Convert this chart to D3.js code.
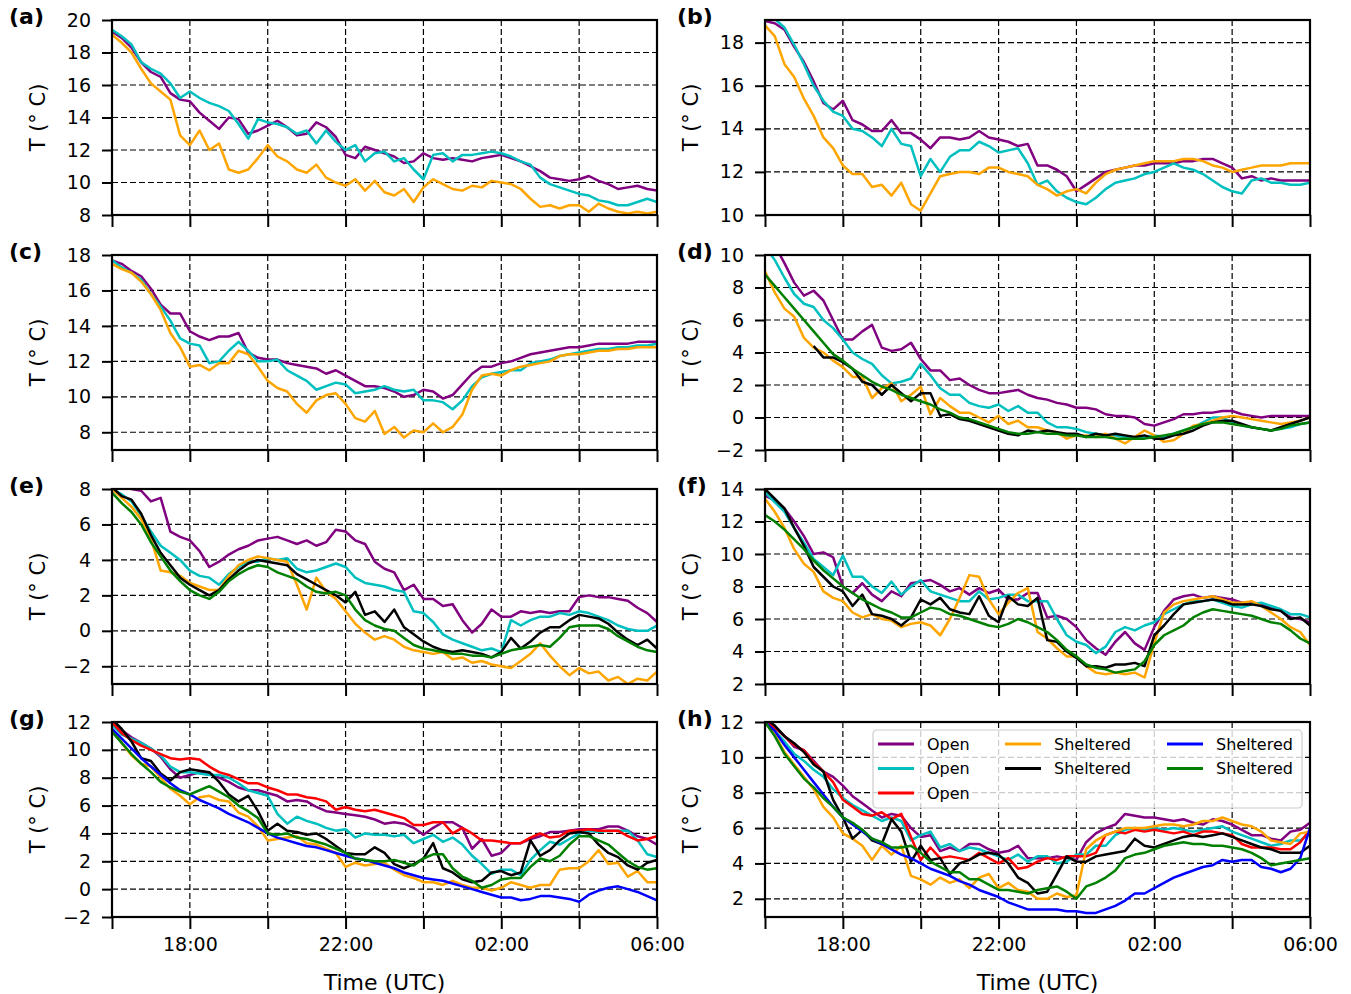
<!DOCTYPE html>
<html>
<head>
<meta charset="utf-8">
<script src="https://cdn.jsdelivr.net/npm/d3@7"></script>
<style>
  body { margin: 0; background: #fff; }
  svg { display: block; }
  text { font-family: "DejaVu Sans", sans-serif; fill: #000; }
</style>
</head>
<body>
<svg id="chart" width="1351" height="994"></svg>
<script>
// samples every 15 min, 16:00 -> 06:00 (57 values per station)
var startTime = new Date(2000, 0, 1, 16, 0);
var endTime = new Date(2000, 0, 2, 6, 0);
var stepMinutes = 15;
var xLabelHours = [18, 22, 2, 6];

// station colours and legend text, legend order
var stations = ["purple", "cyan", "red", "orange", "black", "blue", "green"];
var stationColor = { purple: "#800080", cyan: "#00bfbf", red: "#ff0000", orange: "#ffa500", black: "#000000", blue: "#0000ff", green: "#008000" };
var stationLabel = { purple: "Open", cyan: "Open", red: "Open", orange: "Sheltered", black: "Sheltered", blue: "Sheltered", green: "Sheltered" };

// ---- (a)
var aPurple = [19.3,18.9,18.3,17.4,16.8,16.5,15.5,15.1,15.0,14.3, 13.8,13.3,14.0,13.9,13.0,13.2,13.5,13.8,13.4,12.9, 13.0,13.7,13.4,12.8,11.7,11.5,12.2,12.0,11.8,11.6, 11.2,11.3,11.8,11.5,11.4,11.5,11.4,11.3,11.5,11.6, 11.7,11.5,11.3,11.0,10.7,10.3,10.2,10.1,10.2,10.4, 10.1,9.9,9.6,9.7,9.8,9.6,9.5];
var aCyan = [19.4,19.0,18.5,17.4,17.0,16.7,16.1,15.2,15.6,15.2, 14.9,14.7,14.4,13.6,12.7,13.9,13.7,13.6,13.4,13.0, 13.2,12.4,13.2,12.5,12.0,12.3,11.3,11.8,11.9,11.3, 11.5,10.8,10.2,11.7,11.8,11.3,11.7,11.7,11.8,11.9, 11.8,11.6,11.3,11.1,10.3,9.9,9.7,9.5,9.3,9.2, 8.9,8.8,8.6,8.6,8.8,9.0,8.8];
var aOrange = [19.1,18.6,18.0,17.0,16.1,15.6,15.1,12.9,12.3,13.2, 12.0,12.4,10.8,10.6,10.8,11.5,12.3,11.6,11.3,10.8, 10.6,11.1,10.3,10.0,9.8,10.2,9.5,10.1,9.4,9.2, 9.6,8.8,9.7,10.2,9.9,9.6,9.5,9.8,9.7,10.1, 10.0,9.9,9.6,9.0,8.5,8.6,8.4,8.6,8.6,8.2, 8.7,8.4,8.2,8.1,8.2,8.1,8.2];
var aTicks = [8, 10, 12, 14, 16, 18, 20];

// ---- (b)
var bPurple = [19.0,18.9,18.6,17.8,17.1,16.2,15.2,14.9,15.3,14.4, 14.2,13.9,13.9,14.4,13.8,13.8,13.5,13.1,13.6,13.6, 13.5,13.6,13.9,13.6,13.5,13.4,13.2,13.3,12.3,12.3, 12.1,11.8,11.1,11.4,11.7,12.0,12.1,12.2,12.3,12.3, 12.4,12.4,12.4,12.5,12.5,12.6,12.6,12.4,12.2,11.7, 11.8,11.6,11.7,11.6,11.6,11.6,11.6];
var bCyan = [19.1,19.1,18.7,17.9,17.0,16.0,15.3,14.8,14.6,14.0, 13.9,13.6,13.2,14.0,13.3,13.2,11.8,12.6,12.0,12.7, 13.0,13.0,13.4,13.2,12.9,13.0,13.1,12.4,11.4,11.6, 11.1,10.8,10.6,10.5,10.8,11.2,11.5,11.6,11.7,11.9, 12.0,12.2,12.4,12.2,12.1,11.9,11.6,11.3,11.1,11.0, 11.6,11.7,11.5,11.5,11.4,11.4,11.5];
var bOrange = [18.8,18.3,17.0,16.4,15.4,14.6,13.6,13.1,12.3,11.9, 11.9,11.3,11.4,10.9,11.5,10.5,10.2,11.0,11.8,11.9, 12.0,12.0,11.9,12.2,12.2,12.0,11.9,11.8,11.4,11.2, 10.9,11.1,11.2,11.0,11.5,11.9,12.1,12.2,12.3,12.4, 12.5,12.5,12.5,12.6,12.6,12.5,12.3,12.2,12.0,12.1, 12.2,12.3,12.3,12.3,12.4,12.4,12.4];
var bTicks = [10, 12, 14, 16, 18];

// ---- (c)
var cPurple = [17.7,17.5,17.1,16.8,16.1,15.2,14.7,14.7,13.7,13.4, 13.2,13.4,13.4,13.6,12.5,12.2,12.1,12.1,11.9,11.8, 11.7,11.6,11.3,11.5,11.2,10.9,10.6,10.6,10.5,10.3, 10.0,10.1,10.4,10.3,9.9,10.1,10.7,11.3,11.7,11.7, 11.9,12.0,12.2,12.4,12.5,12.6,12.7,12.8,12.8,12.9, 13.0,13.0,13.0,13.0,13.1,13.1,13.1];
var cCyan = [17.7,17.3,17.0,16.6,15.8,15.1,14.3,13.3,13.0,12.9, 11.9,12.0,12.6,13.1,12.6,12.0,12.0,12.1,11.5,11.2, 10.9,10.4,10.6,10.8,10.7,10.2,10.3,10.4,10.6,10.4, 10.3,10.4,9.8,9.8,9.7,9.3,9.8,10.6,11.1,11.3, 11.4,11.5,11.5,11.9,12.0,12.1,12.3,12.4,12.5,12.6, 12.7,12.7,12.8,12.8,12.9,12.9,13.0];
var cOrange = [17.5,17.2,17.0,16.5,15.8,14.9,13.6,12.8,11.7,11.8, 11.5,11.9,11.9,12.6,12.4,11.7,10.9,10.5,10.3,9.6, 9.1,9.8,10.1,10.2,9.6,8.8,8.6,9.2,7.9,8.3, 7.7,8.1,8.0,8.5,8.0,8.3,9.0,10.4,11.2,11.3, 11.2,11.5,11.7,11.8,11.9,12.0,12.3,12.4,12.4,12.5, 12.6,12.6,12.7,12.7,12.8,12.8,12.8];
var cTicks = [8, 10, 12, 14, 16, 18];

// ---- (d)
var dPurple = [11.5,10.6,9.5,8.3,7.5,7.8,7.2,6.0,4.8,4.8, 5.3,5.7,4.3,4.1,4.2,4.6,3.6,2.9,2.9,2.3, 2.4,2.0,1.7,1.5,1.5,1.6,1.7,1.4,1.2,1.1, 0.9,0.8,0.6,0.6,0.5,0.2,0.1,0.1,0.0,-0.4, -0.5,-0.3,-0.1,0.2,0.2,0.3,0.3,0.4,0.4,0.2, 0.1,0.0,0.1,0.1,0.1,0.1,0.1];
var dCyan = [10.5,9.7,8.6,7.6,7.0,6.8,6.0,5.5,4.8,4.0, 3.6,3.3,2.6,2.1,2.2,2.4,3.3,2.6,1.8,1.4, 1.4,0.9,0.7,0.6,0.8,0.4,0.7,0.3,0.3,-0.3, -0.6,-0.6,-0.7,-0.9,-1.0,-1.1,-1.1,-1.2,-1.3,-1.2, -1.1,-1.2,-1.0,-0.8,-0.6,-0.3,0.0,0.0,-0.3,-0.5, -0.6,-0.7,-0.8,-0.7,-0.6,-0.4,-0.3];
var dOrange = [9.0,7.7,6.7,6.2,4.9,4.3,4.0,3.5,3.1,2.5, 2.5,1.2,1.8,2.1,1.0,1.4,1.9,0.2,1.2,0.7, 0.3,0.3,0.0,-0.3,0.1,-0.4,-0.2,-0.6,-0.6,-0.8, -0.9,-1.3,-1.1,-1.1,-1.2,-1.0,-1.3,-1.6,-1.2,-0.8, -1.1,-1.5,-1.4,-1.0,-0.5,-0.4,-0.2,0.0,0.1,0.0, -0.1,-0.2,-0.3,-0.4,-0.3,-0.2,0.0];
var dBlack = [null,null,null,null,null,4.4,3.7,3.7,3.4,3.0, 2.2,2.0,1.4,2.0,1.5,1.0,1.5,1.5,0.1,0.2, -0.1,-0.2,-0.4,-0.6,-0.8,-1.0,-1.1,-0.8,-0.9,-0.8, -0.9,-1.0,-1.0,-1.2,-1.0,-1.1,-1.0,-1.1,-1.2,-1.1, -1.3,-1.3,-1.1,-1.0,-0.8,-0.5,-0.3,-0.2,-0.2,-0.4, -0.6,-0.7,-0.8,-0.6,-0.4,-0.2,0.0];
var dGreen = [8.8,8.1,7.4,6.7,6.0,5.3,4.6,3.9,3.5,3.0, 2.6,2.2,1.9,1.7,1.4,1.2,1.0,0.8,0.5,0.3, 0.0,-0.1,-0.3,-0.5,-0.7,-0.9,-1.0,-1.0,-0.9,-1.0, -1.0,-1.1,-1.1,-1.2,-1.2,-1.2,-1.3,-1.3,-1.3,-1.3, -1.2,-1.1,-1.0,-0.8,-0.6,-0.4,-0.3,-0.3,-0.4,-0.5, -0.6,-0.7,-0.8,-0.7,-0.5,-0.4,-0.3];
var dTicks = [-2, 0, 2, 4, 6, 8, 10];

// ---- (e)
var ePurple = [8.6,8.2,8.0,7.9,7.3,7.5,5.6,5.3,5.1,4.5, 3.6,3.9,4.3,4.6,4.8,5.1,5.2,5.3,5.1,4.9, 5.1,4.8,5.0,5.7,5.6,5.1,4.9,3.9,3.5,3.3, 2.3,2.6,1.8,1.8,1.4,1.5,0.6,-0.1,0.4,1.2, 0.8,0.8,1.1,1.0,1.1,1.0,1.1,1.1,1.9,2.0, 1.9,1.9,1.8,1.7,1.3,1.0,0.5];
var eCyan = [8.0,7.7,7.3,6.5,5.6,4.8,4.4,4.0,3.4,3.1, 3.0,2.6,3.2,3.6,3.9,3.9,4.1,4.0,4.1,3.5, 3.3,3.4,3.6,3.8,3.6,3.0,2.7,2.6,2.5,2.3, 2.2,1.1,1.0,0.5,-0.2,-0.5,-0.7,-0.9,-1.1,-1.0, -1.2,0.6,0.3,0.6,0.8,0.8,1.0,0.9,1.1,1.0, 0.8,0.6,0.3,0.1,0.0,0.0,0.3];
var eOrange = [8.0,7.5,7.0,6.3,5.2,3.4,3.3,3.1,2.7,2.5, 2.3,2.3,3.1,3.7,4.0,4.2,4.1,4.0,3.9,2.6, 1.2,3.0,2.2,1.8,1.1,0.4,-0.1,-0.5,-0.3,-0.5, -0.9,-1.1,-1.2,-1.3,-1.2,-1.6,-1.5,-1.8,-1.7,-1.9, -2.0,-2.1,-1.7,-1.3,-0.7,-1.4,-2.0,-2.5,-2.1,-2.4, -2.3,-2.8,-2.6,-3.0,-2.7,-2.8,-2.3];
var eBlack = [8.1,7.6,7.4,6.6,5.4,4.4,3.7,3.0,2.6,2.3, 2.0,2.3,2.9,3.4,3.8,4.0,3.9,3.8,3.7,3.2, 2.9,2.6,2.3,2.0,1.6,2.2,0.9,1.1,0.5,1.2, 0.2,-0.2,-0.6,-0.9,-1.1,-1.2,-1.1,-1.2,-1.3,-1.5, -1.2,-0.4,-1.0,-0.6,-0.1,0.2,0.2,0.6,0.9,0.8, 0.7,0.4,-0.1,-0.5,-0.8,-0.5,-1.0];
var eGreen = [7.8,7.2,6.7,6.0,5.0,4.2,3.4,2.8,2.3,2.0, 1.8,2.2,2.8,3.2,3.5,3.7,3.6,3.3,3.1,2.9, 2.5,2.2,2.1,2.2,2.0,1.2,0.6,0.3,0.1,0.0, -0.4,-0.8,-1.0,-1.1,-1.2,-1.3,-1.3,-1.4,-1.4,-1.5, -1.3,-1.1,-1.0,-0.9,-0.8,-0.9,-0.4,0.2,0.3,0.3, 0.3,0.1,-0.3,-0.6,-0.9,-1.1,-1.2];
var eTicks = [-2, 0, 2, 4, 6, 8];

// ---- (f)
var fPurple = [13.6,13.3,12.8,12.0,11.1,10.0,10.1,9.8,8.0,7.6, 8.2,7.5,7.1,7.7,7.4,8.2,8.3,8.4,8.1,7.7, 7.9,7.5,7.9,7.6,7.8,7.2,7.2,7.6,7.6,6.1, 6.2,6.0,5.5,4.7,4.2,3.8,4.6,5.2,4.5,4.1, 5.5,6.5,7.2,7.4,7.5,7.3,7.4,7.3,7.2,7.0, 7.0,6.9,6.7,6.5,6.1,6.0,5.8];
var fCyan = [13.8,13.2,12.6,11.6,10.7,9.7,9.2,8.7,9.9,8.6, 8.6,8.0,7.6,8.3,7.5,8.0,8.4,7.7,7.5,7.3, 7.1,7.1,7.7,7.2,7.3,7.5,7.5,7.1,7.1,7.1, 6.0,5.0,4.6,4.4,3.9,4.3,5.2,5.5,5.3,5.6, 5.8,6.3,6.6,6.9,7.1,7.1,7.2,7.0,6.8,6.7, 6.9,7.0,6.8,6.6,6.3,6.3,6.1];
var fOrange = [13.4,12.6,11.6,10.3,9.4,8.9,7.7,7.3,7.1,6.4, 6.1,6.3,6.0,5.9,5.5,5.7,5.8,5.6,5.0,6.0, 7.3,8.7,8.6,7.2,6.3,7.0,7.6,7.9,5.2,4.8, 4.2,3.7,3.7,3.1,2.7,2.6,2.7,2.6,2.7,2.4, 4.5,6.4,6.9,7.1,7.2,7.3,7.4,7.2,7.0,7.0, 7.1,6.8,6.4,6.0,5.5,5.2,4.4];
var fBlack = [14.0,13.4,12.8,11.6,10.5,9.2,8.6,8.0,7.7,6.8, 7.5,6.3,6.2,6.0,5.6,6.1,7.2,6.9,7.3,6.6, 6.4,6.3,7.4,6.2,5.8,7.4,6.9,6.8,7.3,4.7, 4.6,4.0,3.6,3.1,3.1,3.0,3.2,3.2,3.3,3.1, 5.0,5.6,6.3,6.9,7.0,7.1,7.2,7.1,6.9,6.9, 6.9,6.8,6.6,6.5,6.0,6.1,5.6];
var fGreen = [12.4,12.0,11.5,10.9,10.3,9.6,9.0,8.5,8.0,7.6, 7.2,6.9,6.6,6.4,6.1,6.1,6.4,6.7,6.6,6.3, 6.2,6.0,5.8,5.6,5.5,5.7,6.0,5.8,5.5,5.2, 4.7,4.1,3.7,3.2,3.0,2.9,2.7,2.8,2.9,3.4, 4.4,5.0,5.3,5.6,6.1,6.4,6.6,6.5,6.4,6.3, 6.2,6.0,5.8,5.7,5.3,4.8,4.5];
var fTicks = [2, 4, 6, 8, 10, 12, 14];

// ---- (g)
var gPurple = [12.0,11.4,10.9,10.5,10.1,9.5,8.6,8.0,8.2,8.4, 8.3,8.0,7.7,7.3,7.1,7.1,6.9,6.7,6.3,6.4, 6.3,5.9,5.6,5.5,5.4,5.3,5.2,5.0,4.7,4.8, 4.7,4.4,3.9,4.4,4.8,4.8,4.4,2.9,3.6,2.4, 2.6,3.3,3.3,3.6,3.8,4.1,4.1,4.2,4.3,4.3, 4.3,4.5,4.5,4.2,3.8,3.6,3.2];
var gCyan = [11.8,11.1,10.8,10.5,10.1,9.6,8.8,8.4,8.4,8.3, 8.2,8.2,8.0,7.6,7.1,6.9,6.7,5.4,4.7,5.2, 4.9,4.7,4.4,4.2,4.3,3.7,4.0,3.9,3.9,3.8, 3.9,3.3,3.6,3.9,3.4,3.7,3.2,2.4,1.8,1.1, 1.4,1.4,1.0,2.1,2.8,3.4,3.2,3.6,4.0,4.2, 4.1,4.2,4.2,4.2,3.5,2.5,2.3];
var gRed = [12.0,11.2,10.7,10.3,10.0,9.7,9.4,9.3,9.4,9.3, 8.8,8.4,8.2,7.9,7.6,7.6,7.3,7.1,6.8,6.8, 6.6,6.5,6.3,5.7,5.9,5.7,5.6,5.7,5.5,5.3, 5.1,4.6,4.6,4.8,4.8,4.0,4.4,4.0,3.5,3.5, 3.4,3.3,3.3,3.7,4.0,3.7,3.8,4.2,4.2,4.3, 4.2,4.2,4.2,3.8,3.5,3.6,3.8];
var gOrange = [11.5,10.5,9.6,9.0,8.8,8.0,7.2,6.7,6.1,6.6, 6.7,6.4,6.3,5.5,5.2,4.5,3.5,3.6,3.7,3.8, 3.3,3.2,2.9,2.6,1.6,1.9,1.7,1.8,1.9,1.4, 1.0,0.8,0.5,0.5,0.3,0.6,0.3,0.1,0.1,-0.1, 0.1,0.5,0.3,0.1,0.3,0.3,1.4,1.5,1.5,2.0, 2.8,1.8,1.9,0.9,1.3,0.5,0.5];
var gBlack = [12.2,11.5,10.6,9.4,9.2,8.3,7.8,8.4,8.6,8.5, 8.4,7.7,6.8,6.3,6.7,5.6,4.2,4.7,4.2,4.1, 3.9,4.0,3.6,3.1,2.6,2.5,2.5,3.0,2.6,1.8, 1.5,1.8,2.2,3.3,1.5,1.2,0.7,0.5,0.6,1.2, 1.3,1.0,1.2,3.5,2.4,2.8,3.5,4.0,4.1,4.0, 3.2,2.6,2.3,1.7,1.4,1.9,2.1];
var gBlue = [11.5,10.8,10.1,9.4,8.8,8.2,7.6,7.1,6.8,6.4, 6.1,5.8,5.4,5.1,4.8,4.4,4.0,3.7,3.5,3.3, 3.1,3.0,2.8,2.6,2.4,2.2,2.1,1.9,1.7,1.5, 1.2,1.0,0.8,0.7,0.6,0.4,0.2,0.0,-0.2,-0.4, -0.6,-0.6,-0.8,-0.7,-0.5,-0.5,-0.6,-0.7,-0.9,-0.4, -0.1,0.1,0.2,0.0,-0.2,-0.5,-0.8];
var gGreen = [11.3,10.5,9.7,9.0,8.4,7.7,7.3,7.0,6.8,7.1, 7.4,7.0,6.6,6.0,5.6,5.1,4.0,3.9,4.0,3.7, 3.6,3.4,3.2,2.9,2.6,2.2,2.1,2.0,2.0,2.1, 1.9,1.7,2.2,2.5,2.5,1.5,0.9,0.6,0.1,0.3, 0.7,0.8,0.8,1.6,2.2,2.0,2.4,3.2,3.8,3.8, 3.5,3.2,2.6,2.0,1.6,1.4,1.5];
var gTicks = [-2, 0, 2, 4, 6, 8, 10, 12];

// ---- (h)
var hPurple = [12.1,11.7,11.2,10.6,10.4,9.8,9.2,8.9,8.4,7.8, 7.4,7.0,6.6,6.8,6.7,6.0,5.5,5.6,4.7,4.9, 4.7,5.1,5.1,4.8,4.6,4.7,5.0,4.3,4.3,4.3, 4.4,4.3,4.2,5.2,5.7,6.0,6.2,6.8,6.7,6.6, 6.6,6.5,6.4,6.5,6.3,6.2,6.5,6.4,6.2,5.9, 5.6,5.6,5.4,5.3,5.8,5.9,6.3];
var hCyan = [12.0,11.5,10.9,10.2,9.8,9.3,8.9,8.2,7.7,7.3, 7.0,6.7,6.4,6.6,6.4,5.3,5.6,5.8,4.9,5.1, 4.7,4.9,4.8,4.6,4.4,4.2,4.5,4.1,4.4,4.4, 4.0,4.1,4.5,4.5,5.0,5.0,5.6,5.9,6.0,5.9, 6.0,5.9,6.0,5.9,5.8,5.9,6.0,6.1,5.8,5.6, 5.4,5.2,5.0,5.1,5.3,5.3,5.7];
var hRed = [12.0,11.7,11.2,10.7,10.4,9.7,9.2,8.6,7.6,7.2, 6.8,6.7,6.9,6.5,6.8,5.5,4.2,4.9,4.3,4.4, 4.3,4.2,4.6,4.3,4.0,4.3,3.7,3.8,4.1,4.3, 4.2,4.4,4.4,4.4,4.6,5.6,5.8,5.7,5.9,5.8, 5.9,5.8,5.7,5.8,5.6,5.8,5.8,5.7,5.6,5.1, 4.9,4.9,4.9,4.8,4.8,5.2,5.9];
var hOrange = [12.0,11.3,10.3,9.6,8.9,8.2,7.2,6.6,5.7,5.4, 5.0,4.2,5.0,4.5,5.0,3.3,3.1,2.8,3.2,2.9, 3.1,2.6,3.2,3.4,2.6,2.9,2.5,2.4,2.0,2.0, 2.3,2.1,2.2,4.8,5.3,5.6,5.8,6.0,6.0,6.0, 6.1,6.2,6.2,6.1,6.2,6.4,6.4,6.6,6.4,6.2, 6.1,5.8,5.3,5.2,5.1,5.7,5.8];
var hBlack = [12.2,11.8,11.2,10.8,10.3,9.6,9.2,7.6,6.6,5.4, 5.9,5.3,5.1,6.5,5.8,4.1,5.0,4.2,4.3,3.4, 4.0,4.2,4.5,4.6,4.5,4.0,3.2,2.9,2.3,2.4, 3.4,4.4,4.1,4.1,4.4,4.5,4.6,4.7,5.4,5.0, 4.9,5.1,5.3,5.5,5.6,5.5,5.6,5.7,5.5,5.3, 5.1,4.9,4.8,4.6,4.6,4.6,5.0];
var hBlue = [12.0,11.5,10.7,10.0,9.3,8.6,7.9,7.2,6.6,6.2, 5.8,5.4,5.1,4.8,4.5,4.3,4.0,3.7,3.5,3.3, 3.0,2.8,2.5,2.3,2.1,1.8,1.6,1.4,1.4,1.4, 1.4,1.3,1.3,1.2,1.2,1.4,1.6,1.9,2.3,2.3, 2.6,2.9,3.2,3.4,3.6,3.8,3.9,4.2,4.1,4.2, 4.2,3.8,3.7,3.5,3.7,4.3,6.0];
var hGreen = [12.0,11.2,10.2,9.5,8.8,8.3,7.7,7.2,6.6,6.3, 5.9,5.4,5.2,4.9,4.9,5.0,4.6,4.1,3.8,3.5, 3.5,3.1,3.1,2.8,2.5,2.5,2.4,2.3,2.5,2.6, 2.7,2.4,2.0,2.7,2.9,3.2,3.6,4.3,4.5,4.6, 4.8,5.0,5.1,5.2,5.1,5.1,5.0,5.0,4.9,4.8, 4.6,4.3,3.9,4.0,4.1,4.2,4.3];
var hTicks = [2, 4, 6, 8, 10, 12];

var panels = [
    { label: "(a)", col: 0, row: 0, yDomain: [8, 20], yTicks: aTicks, data: { purple: aPurple, cyan: aCyan, orange: aOrange } },
    { label: "(b)", col: 1, row: 0, yDomain: [10, 19.05], yTicks: bTicks, data: { purple: bPurple, cyan: bCyan, orange: bOrange } },
    { label: "(c)", col: 0, row: 1, yDomain: [7, 18], yTicks: cTicks, data: { purple: cPurple, cyan: cCyan, orange: cOrange } },
    { label: "(d)", col: 1, row: 1, yDomain: [-2, 10], yTicks: dTicks, data: { purple: dPurple, cyan: dCyan, orange: dOrange, black: dBlack, green: dGreen } },
    { label: "(e)", col: 0, row: 2, yDomain: [-3, 8], yTicks: eTicks, data: { purple: ePurple, cyan: eCyan, orange: eOrange, black: eBlack, green: eGreen } },
    { label: "(f)", col: 1, row: 2, yDomain: [2, 14], yTicks: fTicks, data: { purple: fPurple, cyan: fCyan, orange: fOrange, black: fBlack, green: fGreen } },
    { label: "(g)", col: 0, row: 3, yDomain: [-2, 12], yTicks: gTicks, data: { purple: gPurple, cyan: gCyan, red: gRed, orange: gOrange, black: gBlack, blue: gBlue, green: gGreen } },
    { label: "(h)", col: 1, row: 3, yDomain: [0.97, 12], yTicks: hTicks, data: { purple: hPurple, cyan: hCyan, red: hRed, orange: hOrange, black: hBlack, blue: hBlue, green: hGreen }, legend: true }
];

// layout
var colX = [112, 765];
var rowY = [20, 255, 489, 722];
var W = 545, H = 195;

var svg = d3.select("#chart");
svg.append("rect").attr("width", 1351).attr("height", 994).attr("fill", "#fff");

var x = d3.scaleTime().domain([startTime, endTime]).range([0, W]);
var xTicks = d3.timeHour.every(2).range(startTime, new Date(endTime.getTime() + 1));
var fmtTime = d3.timeFormat("%H:%M");
var fmtY = d3.format("d");

function timeAt(i) {
    return new Date(startTime.getTime() + i * stepMinutes * 60000);
}

panels.forEach(function (p, k) {
    var g = svg.append("g").attr("transform", "translate(" + colX[p.col] + "," + rowY[p.row] + ")");
    var y = d3.scaleLinear().domain(p.yDomain).range([H, 0]);
    var isBottom = p.row === 3;

    g.append("clipPath").attr("id", "clip" + k)
        .append("rect").attr("width", W).attr("height", H);

    // dashed grid
    var grid = g.append("g").attr("class", "grid")
        .attr("stroke", "#000").attr("stroke-width", 1.2).attr("stroke-dasharray", "6,3");
    grid.selectAll(".gx").data(xTicks).enter().append("line")
        .attr("x1", function (d) { return x(d); }).attr("x2", function (d) { return x(d); })
        .attr("y1", 0).attr("y2", H);
    grid.selectAll(".gy").data(p.yTicks).enter().append("line")
        .attr("x1", 0).attr("x2", W)
        .attr("y1", function (d) { return y(d); }).attr("y2", function (d) { return y(d); });

    // station lines
    var line = d3.line()
        .defined(function (d) { return d.v != null; })
        .x(function (d) { return x(d.t); })
        .y(function (d) { return y(d.v); });

    var lines = g.append("g").attr("clip-path", "url(#clip" + k + ")");
    stations.forEach(function (s) {
        if (!p.data[s]) return;
        var pts = p.data[s].map(function (v, i) { return { t: timeAt(i), v: v }; });
        lines.append("path")
            .attr("d", line(pts))
            .attr("fill", "none")
            .attr("stroke", stationColor[s])
            .attr("stroke-width", 2.5)
            .attr("stroke-linejoin", "round");
    });

    // axes
    var xAxis = d3.axisBottom(x).tickValues(xTicks).tickSize(12).tickSizeOuter(0).tickPadding(9)
        .tickFormat(function (d) { return isBottom && xLabelHours.indexOf(d.getHours()) >= 0 ? fmtTime(d) : ""; });
    var gx = g.append("g").attr("transform", "translate(0," + H + ")").call(xAxis);
    var yAxis = d3.axisLeft(y).tickValues(p.yTicks).tickSize(10).tickSizeOuter(0).tickPadding(11).tickFormat(fmtY);
    var gy = g.append("g").call(yAxis);
    [gx, gy].forEach(function (a) {
        a.select(".domain").remove();
        a.selectAll(".tick line").attr("stroke", "#000").attr("stroke-width", 2);
        a.selectAll(".tick text").attr("font-size", "19px").attr("font-family", "DejaVu Sans").attr("fill", "#000");
    });

    // frame
    g.append("rect").attr("width", W).attr("height", H)
        .attr("fill", "none").attr("stroke", "#000").attr("stroke-width", 2.2);

    // labels
    g.append("text")
        .attr("transform", "translate(-74," + (H / 2) + ") rotate(-90)")
        .attr("text-anchor", "middle").attr("dy", "0.35em")
        .attr("font-size", "21px")
        .text("T (° C)");
    g.append("text")
        .attr("x", p.col === 0 ? -103 : -88).attr("y", 4)
        .attr("font-size", "22px").attr("font-weight", "bold")
        .text(p.label);
    if (isBottom) {
        g.append("text")
            .attr("x", W / 2).attr("y", H + 73)
            .attr("text-anchor", "middle")
            .attr("font-size", "22px")
            .text("Time (UTC)");
    }

    if (p.legend) {
        var lg = g.append("g").attr("transform", "translate(108,8)");
        lg.append("rect").attr("width", 429).attr("height", 78).attr("rx", 4)
            .attr("fill", "#fff").attr("fill-opacity", 0.8)
            .attr("stroke", "#cccccc").attr("stroke-width", 1.2);
        var colStart = [5, 132, 294];
        var counts = [0, 0, 0];
        stations.forEach(function (s, i) {
            var c = i < 3 ? 0 : (i < 5 ? 1 : 2);
            var r = counts[c]++;
            var item = lg.append("g").attr("transform", "translate(" + colStart[c] + "," + (14 + r * 24.5) + ")");
            item.append("line").attr("x1", 0).attr("x2", 36).attr("y1", 0).attr("y2", 0)
                .attr("stroke", stationColor[s]).attr("stroke-width", 2.8);
            item.append("text").attr("x", 49).attr("dy", "0.35em")
                .attr("font-size", "16px").text(stationLabel[s]);
        });
    }
});
</script>
</body>
</html>
